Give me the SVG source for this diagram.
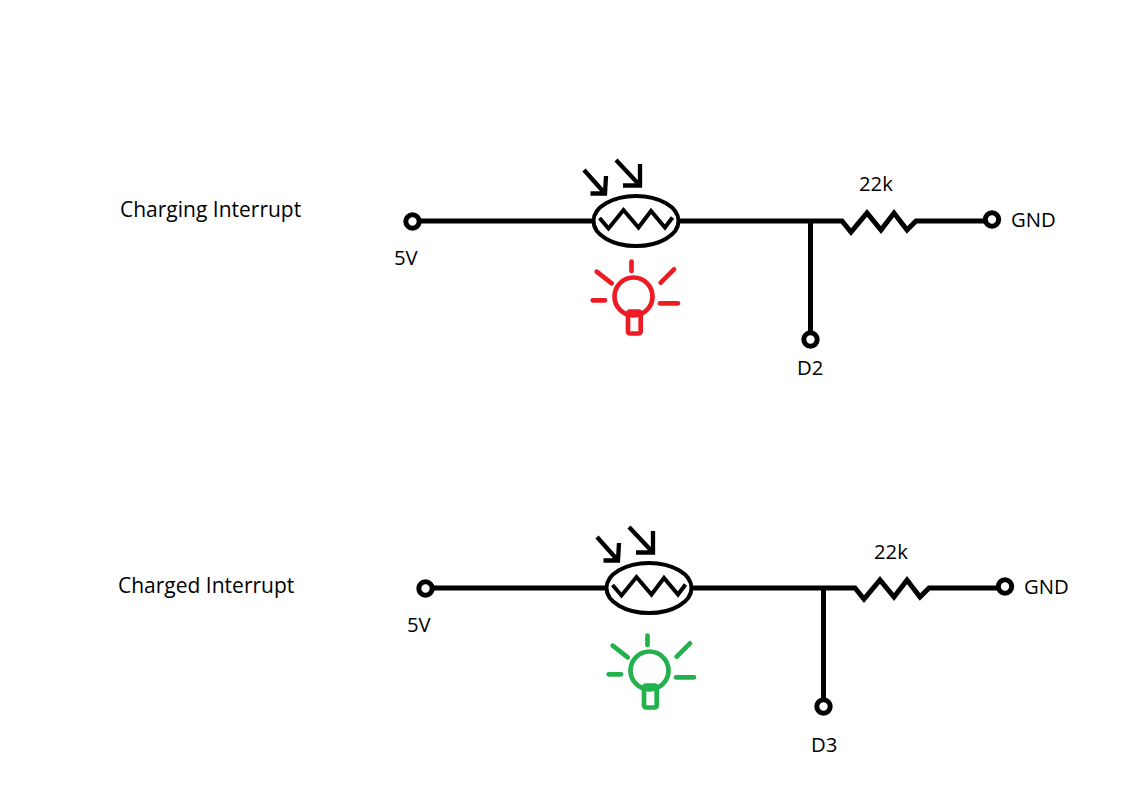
<svg xmlns="http://www.w3.org/2000/svg" width="1134" height="795" viewBox="0 0 1134 795">
<style>
.w{fill:none;stroke:#000;stroke-width:5;stroke-linejoin:miter}
.t{fill:none;stroke:#000;stroke-width:4.300}
.o{fill:#fff;stroke:#000;stroke-width:5}
.e{fill:#fff;stroke:#000;stroke-width:4}
.z{fill:none;stroke:#000;stroke-width:4}
.b{fill:none;stroke-width:4.700;stroke-linecap:round}
.r{stroke:#ed1c24}
.g{stroke:#22b14c}
text{font-family:"Open Sans","Noto Sans",sans-serif;font-size:20.300px;fill:#000}
.h{font-size:21px}
</style>
<rect width="1134" height="795" fill="#fff"/>
<g id="connectors">
<path class="w" d="M412 221H594M680 221H842L851 232 867 213 881 230 894 213 907 230 916 221H986M810.500 221V333"/>
<path class="w" d="M425 588H607M693 588H855L864 599 880 580 894 597 907 580 920 597 929 588H999M823.500 588V700"/>
</g>
<g id="title1"><text class="h" x="120" y="217">Charging Interrupt</text></g>
<g id="title2"><text class="h" x="118" y="593">Charged Interrupt</text></g>
<g id="v5-1"><circle class="o" cx="412.500" cy="221.500" r="6.700"/><text x="394" y="265">5V</text></g>
<g id="gnd-1"><circle class="o" cx="992" cy="219.500" r="6.700"/><text x="1011" y="227">GND</text></g>
<g id="d2"><circle class="o" cx="810.500" cy="339.500" r="6.700"/><text x="797" y="375">D2</text></g>
<g id="r1"><text x="859" y="191">22k</text></g>
<g id="ldr1">
<ellipse class="e" cx="636" cy="221" rx="42.500" ry="25"/>
<path class="z" d="M599.500 218L608.500 228.500 623.500 210 638.500 227.500 651 211 665 227.500 672.500 217.500"/>
<path class="t" d="M584 170L605 193.500M606 176L605 193.500H590.500M616 160L640 185.500M640 164V185.500H623"/>
</g>
<g id="bulb1">
<circle class="b r" cx="633.500" cy="296.500" r="19"/>
<rect class="b r" x="628" y="311.500" width="12.700" height="22" rx="2" fill="#fff"/>
<path class="b r" d="M631.500 261.500V271M596.700 271.700L611.700 283.300M674 269.300L660.700 282.700M592.700 300.300H605M660 303.300H678"/>
</g>
<g id="v5-2"><circle class="o" cx="425.500" cy="588.500" r="6.700"/><text x="407" y="632">5V</text></g>
<g id="gnd-2"><circle class="o" cx="1005" cy="586.500" r="6.700"/><text x="1024" y="594">GND</text></g>
<g id="d3"><circle class="o" cx="823.500" cy="706.500" r="6.700"/><text x="811" y="752">D3</text></g>
<g id="r2"><text x="874" y="559">22k</text></g>
<g id="ldr2">
<ellipse class="e" cx="649" cy="588" rx="42.500" ry="25"/>
<path class="z" d="M612.500 585L621.500 595.500 636.500 577 651.500 594.500 664 578 678 594.500 685.500 584.500"/>
<path class="t" d="M597 537L618 560.500M619 543L618 560.500H603.500M629 527L653 552.500M653 531V552.500H636"/>
</g>
<g id="bulb2">
<circle class="b g" cx="649.500" cy="670.500" r="19"/>
<rect class="b g" x="644" y="685.500" width="12.700" height="22" rx="2" fill="#fff"/>
<path class="b g" d="M647.500 635.500V645M612.700 645.700L627.700 657.300M690 643.300L676.700 656.700M608.700 674.300H621M676 677.300H694"/>
</g>
</svg>
